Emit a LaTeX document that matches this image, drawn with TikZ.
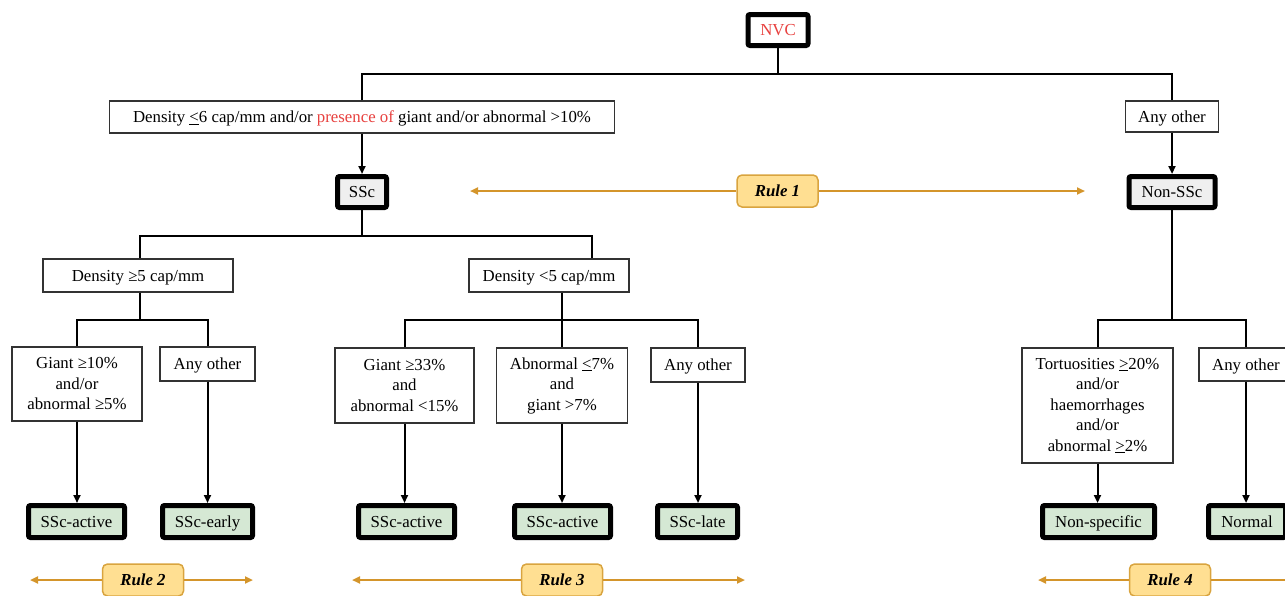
\documentclass[tikz,border=0pt]{standalone}
\usepackage{fontspec}
\setmainfont{Liberation Serif}
\usetikzlibrary{arrows.meta}
\definecolor{redtxt}{HTML}{E8413F}
\definecolor{grayfill}{HTML}{EFEFEF}
\definecolor{greenfill}{HTML}{D5E8D4}
\definecolor{rulefill}{HTML}{FFDF92}
\definecolor{ruleborder}{HTML}{D9A43F}
\definecolor{ruleline}{HTML}{D4952B}
\definecolor{boxborder}{HTML}{333333}
\tikzset{
  txt/.style={font=\fontsize{16.8}{20.5}\selectfont, align=center, inner sep=0pt},
  sl/.style={text height=14pt, text depth=3pt},
  thinbox/.style={txt, draw=boxborder, line width=1.2pt, fill=white},
  thickbox/.style={txt, sl, draw=black, line width=5pt, rounded corners=2pt},
  graybox/.style={thickbox, fill=grayfill},
  greenbox/.style={thickbox, fill=greenfill},
  rulebox/.style={font=\fontsize{16.8}{20}\selectfont\bfseries\itshape, inner sep=0pt, sl,
     draw=ruleborder, line width=1.5pt, fill=rulefill, rounded corners=5pt,
     minimum width=81pt, minimum height=32pt},
  conn/.style={line width=2pt, draw=black},
  arr/.style={conn, -{Triangle[length=8pt,width=7pt]}},
  rulearr/.style={line width=2pt, draw=ruleline, -{Triangle[length=8pt,width=7pt]}},
}
\begin{document}
\begin{tikzpicture}[x=1pt,y=-1pt]
\useasboundingbox (0,0) rectangle (1285,595);
\clip (0,0) rectangle (1285,595);
% root
\node[thickbox, fill=white, text=redtxt, minimum width=60pt, minimum height=31pt] (nvc) at (778,30) {NVC};
\node[thinbox, sl, minimum width=505pt, minimum height=32pt] (dens6) at (362,117)
  {Density \underline{<}6 cap/mm and/or \textcolor{redtxt}{presence of} giant and/or abnormal >10\%};
\node[thinbox, sl, minimum width=93pt, minimum height=31pt] (any1) at (1172,116.5) {Any other};
\node[graybox, minimum width=49pt, minimum height=31pt] (ssc) at (362,192) {SSc};
\node[graybox, minimum width=86pt, minimum height=31pt] (nonssc) at (1172,192) {Non-SSc};
% rule 1
\node[rulebox] (r1) at (777.5,191) {Rule 1};
\coordinate (r1L) at (470,191);
\coordinate (r1R) at (1085,191);
\draw[rulearr] (r1.west) -- (r1L);
\draw[rulearr] (r1.east) -- (r1R);
% level 2 left
\node[thinbox, sl, minimum width=190pt, minimum height=33pt] (d5) at (138,275.5) {Density ≥5 cap/mm};
\node[thinbox, sl, minimum width=160pt, minimum height=33pt] (d5b) at (549,275.5) {Density <5 cap/mm};
% level 3
\node[thinbox, minimum width=130pt, minimum height=74pt] (g10) at (77,384) {Giant ≥10\%\\and/or\\abnormal ≥5\%};
\node[thinbox, sl, minimum width=95pt, minimum height=34pt] (any2) at (207.5,364) {Any other};
\node[thinbox, minimum width=139pt, minimum height=75pt] (g33) at (404.5,385.5) {Giant ≥33\%\\and\\abnormal <15\%};
\node[thinbox, minimum width=131pt, minimum height=75pt] (ab7) at (562,385.5) {Abnormal \underline{<}7\%\\and\\giant >7\%};
\node[thinbox, sl, minimum width=94pt, minimum height=34pt] (any3) at (698,365) {Any other};
\node[thinbox, minimum width=151pt, minimum height=115pt] (tort) at (1097.5,405.5)
  {Tortuosities \underline{>}20\%\\and/or\\haemorrhages\\and/or\\abnormal \underline{>}2\%};
\node[thinbox, sl, minimum width=94pt, minimum height=33pt] (any4) at (1246,364.5) {Any other};
% leaves
\node[greenbox, minimum width=96pt, minimum height=32pt] (l1) at (76.5,521.5) {SSc-active};
\node[greenbox, minimum width=90pt, minimum height=32pt] (l2) at (207.5,521.5) {SSc-early};
\node[greenbox, minimum width=96pt, minimum height=32pt] (l3) at (406.5,521.5) {SSc-active};
\node[greenbox, minimum width=96pt, minimum height=32pt] (l4) at (562.5,521.5) {SSc-active};
\node[greenbox, minimum width=80pt, minimum height=32pt] (l5) at (697.5,521.5) {SSc-late};
\node[greenbox, minimum width=112pt, minimum height=32pt] (l6) at (1098.5,521.5) {Non-specific};
\node[greenbox, minimum width=77pt, minimum height=32pt] (l7) at (1247,521.5) {Normal};
% rules 2-4
\node[rulebox] (r2) at (143,580) {Rule 2};
\coordinate (r2L) at (30,580);
\coordinate (r2R) at (253,580);
\draw[rulearr] (r2.west) -- (r2L);
\draw[rulearr] (r2.east) -- (r2R);
\node[rulebox] (r3) at (562,580) {Rule 3};
\coordinate (r3L) at (352,580);
\coordinate (r3R) at (745,580);
\draw[rulearr] (r3.west) -- (r3L);
\draw[rulearr] (r3.east) -- (r3R);
\node[rulebox] (r4) at (1170,580) {Rule 4};
\coordinate (r4L) at (1038,580);
\coordinate (r4R) at (1340,580);
\draw[rulearr] (r4.west) -- (r4L);
\draw[rulearr] (r4.east) -- (r4R);
% connectors level 1
\coordinate (j1) at (778,74);
\draw[conn] (nvc.south) -- (j1);
\draw[conn] (dens6.north) |- (j1) -| (any1.north);
\draw[arr] (dens6.south) -- (ssc.north);
\draw[arr] (any1.south) -- (nonssc.north);
% connectors SSc
\coordinate (b2L) at (140,236);
\coordinate (b2R) at (592,236);
\draw[conn] (ssc.south) -- (ssc.south |- b2L);
\draw[conn] (b2L |- d5.north) -- (b2L) -- (b2R) -- (b2R |- d5b.north);
\coordinate (c2) at (140,320);
\draw[conn] (c2 |- d5.south) -- (c2);
\draw[conn] (g10.north) |- (c2) -| (any2.north);
\coordinate (c3) at (562,320);
\draw[conn] (c3 |- d5b.south) -- (c3);
\draw[conn] (g33.north) |- (c3) -| (any3.north);
\draw[conn] (c3) -- (ab7.north);
% connectors Non-SSc
\coordinate (c4) at (1172,320);
\draw[conn] (nonssc.south) -- (c4);
\draw[conn] (tort.north) |- (c4) -| (any4.north);
% arrows to leaves
\draw[arr] (g10.south) -- (l1.north -| g10.south);
\draw[arr] (any2.south) -- (l2.north -| any2.south);
\draw[arr] (g33.south) -- (l3.north -| g33.south);
\draw[arr] (ab7.south) -- (l4.north -| ab7.south);
\draw[arr] (any3.south) -- (l5.north -| any3.south);
\draw[arr] (tort.south) -- (l6.north -| tort.south);
\draw[arr] (any4.south) -- (l7.north -| any4.south);
\end{tikzpicture}
\end{document}
